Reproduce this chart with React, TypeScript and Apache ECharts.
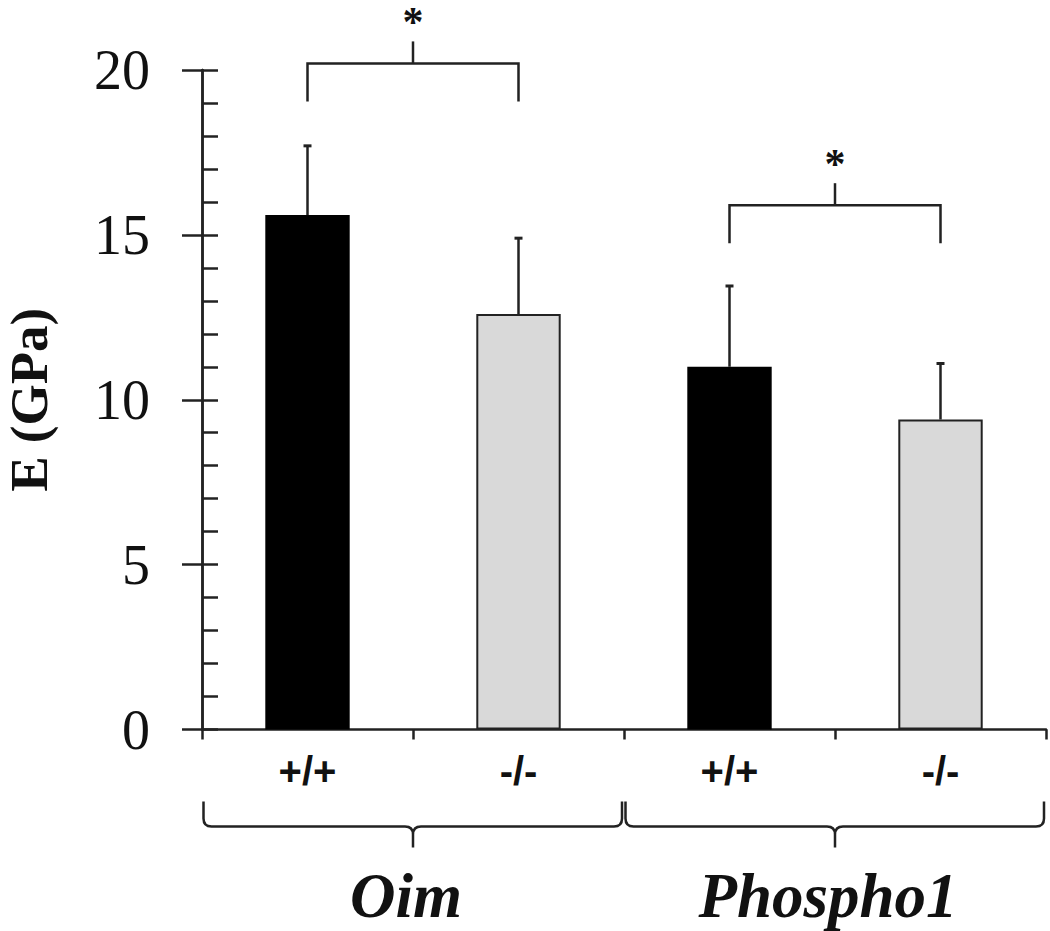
import React, { useEffect, useRef } from 'react';
import * as echarts from 'echarts';

// ---- data ----
const categories = ['+/+', '-/-', '+/+', '-/-'];
const meanValues = [15.6, 12.6, 11.0, 9.4];
const upperErrorValues = [17.7, 14.9, 13.45, 11.1];
const groupNames = ['Oim', 'Phospho1'];
const groupFirst = [0, 2];
const groupLast = [1, 3];
const sigLeft = [0, 2];
const sigRight = [1, 3];
const sigValues = [20.2, 15.9];
const sigMarks = ['*', '*'];
const yMin = 0;
const yMax = 20;
const yInterval = 5;

const SERIF = '"Liberation Serif", "Times New Roman", Times, serif';
const SANS = '"Liberation Sans", Arial, Helvetica, sans-serif';
const INK = '#222';

export default function App() {
  const ref = useRef<HTMLDivElement>(null);

  useEffect(() => {
    document.body.style.margin = '0';
    const chart = echarts.init(ref.current as HTMLDivElement, null, { renderer: 'svg' });
    const axisLineStyle = { color: INK, width: 2.5 };

    const option: any = {
      animation: false,
      backgroundColor: '#ffffff',
      grid: {
        left: 202,
        right: 4,
        top: 70,
        bottom: 201.5,
        containLabel: false,
        outerBoundsMode: 'none',
      },
      xAxis: {
        type: 'category',
        data: categories,
        axisLine: { show: true, lineStyle: axisLineStyle },
        axisTick: { show: true, length: 10, alignWithLabel: false, lineStyle: axisLineStyle },
        axisLabel: {
          interval: 0,
          margin: 21,
          fontSize: 40,
          fontFamily: SANS,
          fontWeight: 'bold',
          color: '#111',
        },
        splitLine: { show: false },
      },
      yAxis: [
        {
          type: 'value',
          min: yMin,
          max: yMax,
          interval: yInterval,
          position: 'left',
          name: 'E (GPa)',
          nameLocation: 'middle',
          nameGap: 150,
          nameRotate: 90,
          nameTextStyle: {
            fontFamily: SERIF,
            fontWeight: 'bold',
            fontSize: 53,
            lineHeight: 46,
            color: '#111',
          },
          axisLine: { show: true, lineStyle: axisLineStyle },
          axisTick: { show: true, inside: false, length: 20, lineStyle: axisLineStyle },
          axisLabel: {
            margin: 52,
            fontSize: 56,
            fontFamily: SERIF,
            color: '#111',
            padding: [0, 0, 14, 0],
          },
          splitLine: { show: false },
        },
        {
          type: 'value',
          min: yMin,
          max: yMax,
          interval: yInterval,
          position: 'left',
          axisLine: { show: true, lineStyle: axisLineStyle },
          axisTick: { show: true, inside: true, length: 16, lineStyle: axisLineStyle },
          minorTick: { show: true, splitNumber: 5, length: 16, lineStyle: axisLineStyle },
          axisLabel: { show: false },
          splitLine: { show: false },
        },
      ],
      series: [
        {
          type: 'bar',
          barWidth: '40%',
          data: meanValues.map((v, i) => ({
            value: v,
            itemStyle: {
              color: i % 2 === 0 ? '#000000' : '#d9d9d9',
              borderColor: INK,
              borderWidth: i % 2 === 0 ? 0 : 2,
            },
          })),
          z: 2,
        },
        {
          type: 'custom',
          z: 3,
          clip: false,
          data: meanValues.map((m, i) => [i, m, upperErrorValues[i]]),
          encode: { x: 0, y: [1, 2] },
          renderItem: (params: any, api: any) => {
            const base = api.coord([api.value(0), api.value(1)]);
            const top = api.coord([api.value(0), api.value(2)]);
            return {
              type: 'group',
              children: [
                {
                  type: 'line',
                  shape: { x1: base[0], y1: base[1], x2: base[0], y2: top[1] },
                  style: { stroke: INK, lineWidth: 2.5 },
                },
                {
                  type: 'line',
                  shape: { x1: top[0] - 4, y1: top[1], x2: top[0] + 4, y2: top[1] },
                  style: { stroke: INK, lineWidth: 3 },
                },
              ],
            };
          },
        },
        {
          type: 'custom',
          z: 4,
          clip: false,
          data: sigValues.map((v, i) => [sigLeft[i], sigRight[i], v]),
          encode: { x: [0, 1], y: 2 },
          renderItem: (params: any, api: any) => {
            const a = api.coord([api.value(0), api.value(2)]);
            const b = api.coord([api.value(1), api.value(2)]);
            const y = a[1];
            const cx = (a[0] + b[0]) / 2;
            return {
              type: 'group',
              children: [
                {
                  type: 'polyline',
                  shape: { points: [[a[0], y + 38], [a[0], y], [b[0], y], [b[0], y + 38]] },
                  style: { stroke: INK, lineWidth: 2.5, fill: 'none' },
                },
                {
                  type: 'line',
                  shape: { x1: cx, y1: y, x2: cx, y2: y - 22 },
                  style: { stroke: INK, lineWidth: 2.5 },
                },
                {
                  type: 'text',
                  style: {
                    text: sigMarks[params.dataIndex],
                    x: cx,
                    y: y - 41,
                    fontSize: 42,
                    fontFamily: SERIF,
                    fontWeight: 'bold',
                    fill: '#111',
                    align: 'center',
                    verticalAlign: 'middle',
                  },
                },
              ],
            };
          },
        },
        {
          type: 'custom',
          z: 4,
          clip: false,
          data: groupNames.map((n, i) => [groupFirst[i], groupLast[i], 0]),
          encode: { x: [0, 1], y: 2 },
          renderItem: (params: any, api: any) => {
            const bw = api.size([1, 0])[0];
            const p0 = api.coord([api.value(0), 0]);
            const p1 = api.coord([api.value(1), 0]);
            const y0 = p0[1];
            const xL = p0[0] - bw / 2 + 1.5;
            const xR = p1[0] + bw / 2 - 2;
            const xC = (p0[0] + p1[0]) / 2;
            const yT = y0 + 72;
            const yM = y0 + 97;
            const yB = y0 + 118;
            const r = 8;
            const d =
              `M ${xL} ${yT} L ${xL} ${yM - r} Q ${xL} ${yM} ${xL + r} ${yM} ` +
              `L ${xC - r} ${yM} Q ${xC} ${yM} ${xC} ${yM + r} L ${xC} ${yB} ` +
              `M ${xC} ${yM + r} Q ${xC} ${yM} ${xC + r} ${yM} ` +
              `L ${xR - r} ${yM} Q ${xR} ${yM} ${xR} ${yM - r} L ${xR} ${yT}`;
            return {
              type: 'group',
              children: [
                {
                  type: 'path',
                  shape: { pathData: d },
                  style: { stroke: INK, lineWidth: 2.5, fill: 'none' },
                },
                {
                  type: 'text',
                  style: {
                    text: groupNames[params.dataIndex],
                    x: xC - 7,
                    y: y0 + 166,
                    fontSize: 63,
                    fontFamily: SERIF,
                    fontWeight: 'bold',
                    fontStyle: 'italic',
                    fill: '#111',
                    align: 'center',
                    verticalAlign: 'middle',
                  },
                },
              ],
            };
          },
        },
      ],
    };

    chart.setOption(option);
    return () => {
      chart.dispose();
    };
  }, []);

  return <div ref={ref} style={{ width: 1050, height: 931 }} />;
}
